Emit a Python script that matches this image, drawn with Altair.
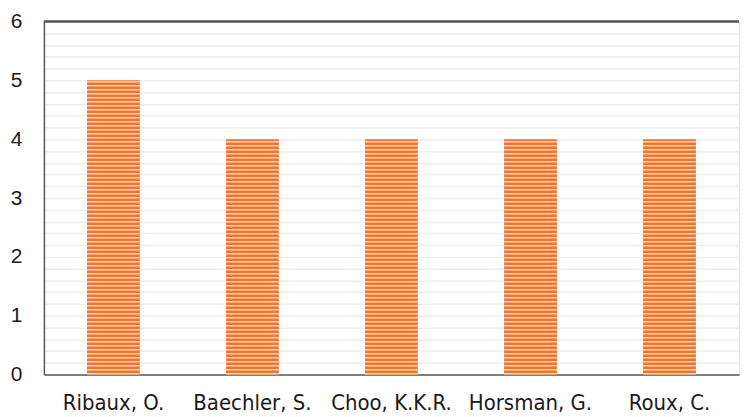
import altair as alt
import pandas as pd

names = ["Ribaux, O.", "Baechler, S.", "Choo, K.K.R.", "Horsman, G.", "Roux, C."]
values = [5, 4, 4, 4, 4]

y_max = 6
grid_values = [round(i * 0.2, 1) for i in range(31)]
stripe_period = 0.068
stripe_light = 0.026

NARROW = "Liberation Sans Narrow, Arial Narrow, DejaVu Sans Condensed, Roboto Condensed, sans-serif"

df = pd.DataFrame({"name": names, "value": values})

x_axis = alt.Axis(
    labelAngle=0,
    labelFont=NARROW,
    labelFontSize=22,
    labelColor="#1a1a1a",
    labelPadding=18,
    ticks=False,
    domainColor="#595959",
    domainWidth=1.5,
    grid=False,
)
x_scale = alt.Scale(paddingInner=0.62, paddingOuter=0.31)

y_axis = alt.Axis(
    values=grid_values,
    tickCount=100,
    labelExpr="abs(datum.value - round(datum.value)) < 0.001 ? format(datum.value, 'd') : ''",
    labelFont="Liberation Sans",
    labelFontSize=21,
    labelColor="#1a1a1a",
    labelPadding=22,
    labelOverlap=False,
    labelFlush=False,
    ticks=False,
    domainColor="#595959",
    domainWidth=1.5,
    gridColor="#EDEDED",
    gridWidth=1.5,
)
y_scale = alt.Scale(domain=[0, y_max], nice=False)

bars = alt.Chart(df).mark_bar(color="#EE7430").encode(
    x=alt.X("name:N", sort=names, title=None, scale=x_scale, axis=x_axis),
    y=alt.Y("value:Q", title=None, scale=y_scale, axis=y_axis),
)

stripes = (
    alt.Chart(df)
    .transform_calculate(s=f"sequence(0, datum.value - 0.0001, {stripe_period})")
    .transform_flatten(["s"])
    .transform_calculate(s2=f"min(datum.s + {stripe_light}, datum.value)")
    .mark_bar(color="#FAD3B8")
    .encode(
        x=alt.X("name:N", sort=names, title=None, scale=x_scale, axis=x_axis),
        y=alt.Y("s:Q", title=None, scale=y_scale, axis=y_axis),
        y2="s2:Q",
    )
)

top_line = alt.Chart(df).mark_rule(color="#595959", strokeWidth=1.5).encode(
    y=alt.datum(y_max)
)

chart = (
    alt.layer(bars, stripes, top_line)
    .properties(width=697, height=354, padding={"top": 2, "left": 2, "right": 0, "bottom": 0})
    .configure_view(strokeOpacity=0)
    .configure(background="white")
)

chart.save("out.html", embed_options={"renderer": "svg", "actions": False})
